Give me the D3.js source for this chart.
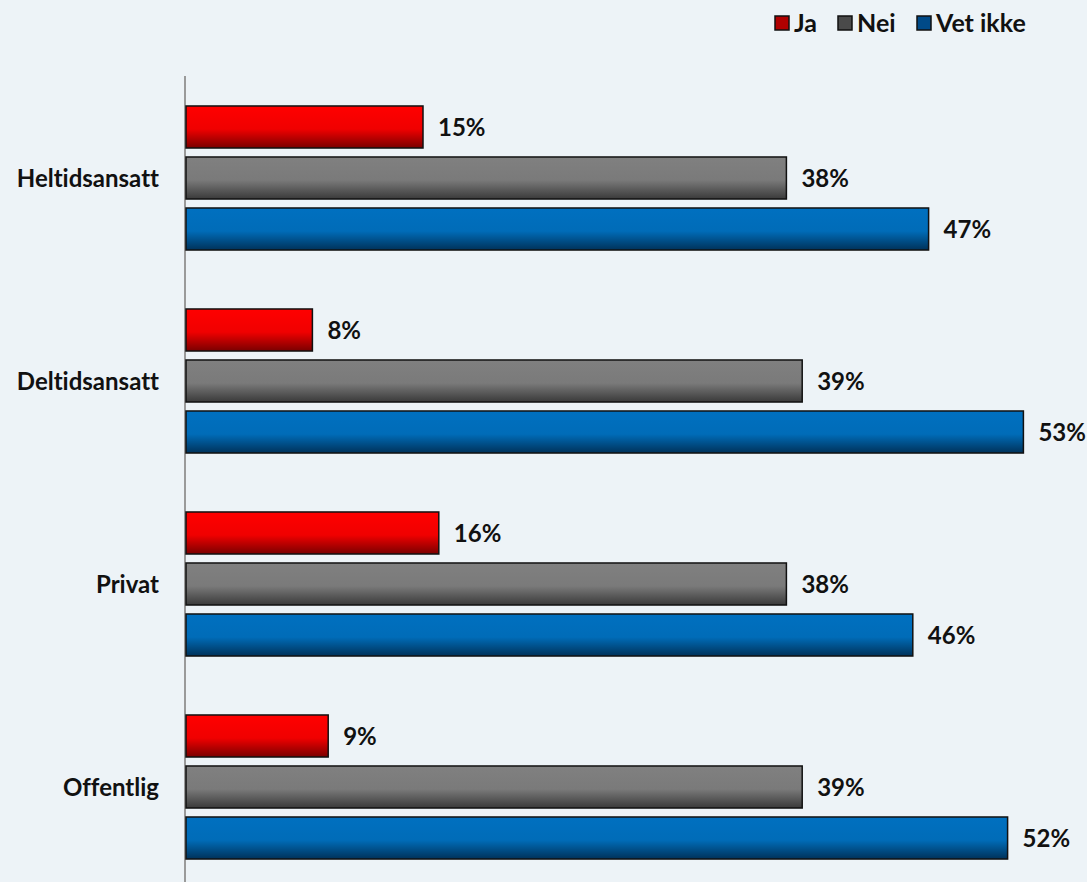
<!DOCTYPE html>
<html>
<head>
<meta charset="utf-8">
<script src="https://cdn.jsdelivr.net/npm/d3@7"></script>
<style>
  body { margin: 0; background: #edf3f7; }
  svg { display: block; }
  text { font-family: Lato, "Open Sans", sans-serif; font-weight: bold; fill: #111;
         font-variant-ligatures: none; }
</style>
</head>
<body>
<script>
// data
const categories = ["Heltidsansatt", "Deltidsansatt", "Privat", "Offentlig"];
const seriesNames = ["Ja", "Nei", "Vet ikke"];
const ja = [15, 8, 16, 9];
const nei = [38, 39, 38, 39];
const vetIkke = [47, 53, 46, 52];

const seriesValues = [ja, nei, vetIkke];
const colors = [
  {top: "#ff0000", mid: "#f00000", bottom: "#7a0000", legend: "#b00000"},
  {top: "#808080", mid: "#7a7a7a", bottom: "#3a3a3a", legend: "#4a4a4a"},
  {top: "#0070c0", mid: "#006cb8", bottom: "#00325a", legend: "#004a88"}
];

let width = 1087, height = 882;
let svg, x, y, ySub;

setupSvg();
setupScales();
appendGradients();
appendAxisLine();
appendBars();
appendLegend();

function setupSvg() {
  svg = d3.select("body").append("svg")
    .attr("width", width)
    .attr("height", height);
}

function setupScales() {
  x = d3.scaleLinear().domain([0, 60]).range([186, 186 + 15.8 * 60]);
  y = d3.scaleBand().domain(categories).range([76.5, 888.5]).paddingInner(0);
  ySub = d3.scaleBand().domain(seriesNames).range([0, y.bandwidth()])
    .paddingInner(0.176).paddingOuter(0.578);
}

function appendGradients() {
  const defs = svg.append("defs");
  colors.forEach((c, i) => {
    const g = defs.append("linearGradient")
      .attr("id", "grad" + i)
      .attr("x1", 0).attr("y1", 0).attr("x2", 0).attr("y2", 1);
    g.append("stop").attr("offset", "0%").attr("stop-color", c.top);
    g.append("stop").attr("offset", "55%").attr("stop-color", c.mid);
    g.append("stop").attr("offset", "100%").attr("stop-color", c.bottom);
  });
}

function appendAxisLine() {
  svg.append("line")
    .attr("x1", x(0) - 1).attr("x2", x(0) - 1)
    .attr("y1", 76).attr("y2", height)
    .attr("stroke", "#9a9a9a")
    .attr("stroke-width", 2);
}

function appendBars() {
  const groups = svg.selectAll("g.cat")
    .data(categories)
    .enter().append("g")
    .attr("class", "cat")
    .attr("transform", d => `translate(0, ${y(d)})`);

  seriesNames.forEach((s, si) => {
    groups.append("rect")
      .attr("x", x(0))
      .attr("y", ySub(s))
      .attr("width", (d, i) => x(seriesValues[si][i]) - x(0))
      .attr("height", ySub.bandwidth())
      .attr("fill", `url(#grad${si})`)
      .attr("stroke", "#111")
      .attr("stroke-width", 1.5);

    // value labels
    groups.append("text")
      .attr("x", (d, i) => x(seriesValues[si][i]) + 15)
      .attr("y", ySub(s) + ySub.bandwidth() / 2)
      .attr("dy", "0.36em")
      .style("font-size", "24px")
      .text((d, i) => seriesValues[si][i] + "%");
  });

  // category labels
  groups.append("text")
    .attr("x", 159)
    .attr("y", y.bandwidth() / 2)
    .attr("dy", "0.36em")
    .attr("text-anchor", "end")
    .style("font-size", "24px")
    .text(d => d);
}

function appendLegend() {
  const items = [
    {name: "Ja", x: 775},
    {name: "Nei", x: 838},
    {name: "Vet ikke", x: 917}
  ];
  const lg = svg.append("g").attr("class", "legend");
  items.forEach((it, i) => {
    lg.append("rect")
      .attr("x", it.x).attr("y", 16)
      .attr("width", 14).attr("height", 14)
      .attr("fill", colors[i].legend)
      .attr("stroke", "#111")
      .attr("stroke-width", 1.5);
    lg.append("text")
      .attr("x", it.x + 19).attr("y", 23)
      .attr("dy", "0.36em")
      .style("font-size", "25px")
      .text(it.name);
  });
}
</script>
</body>
</html>
